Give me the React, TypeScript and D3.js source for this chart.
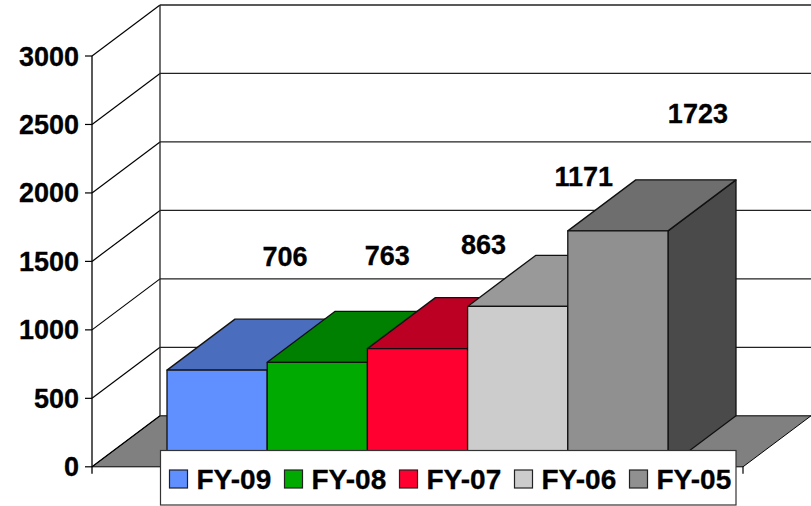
import React from "react";
import * as d3 from "d3";

const categories = ["FY-09", "FY-08", "FY-07", "FY-06", "FY-05"];
const values = [706, 763, 863, 1171, 1723];
const frontColors = ["#6090ff", "#00aa00", "#ff0030", "#cccccc", "#909090"];
const topColors = ["#4a6dbe", "#008000", "#bc0024", "#999999", "#6e6e6e"];
const sideColors = ["#3a5590", "#006000", "#8c001c", "#777777", "#4a4a4a"];
const ticks = [0, 500, 1000, 1500, 2000, 2500, 3000];
const labelOffsets = [0, 2, -2, -2, 12];
const labelLift = [104, 97, 95, 120, 108];

const W = 811, H = 506;
const DX = 68, DY = -51;
const y = d3.scaleLinear().domain([0, 3000]).range([466.8, 56]);
const x = d3.scaleBand<string>().domain(categories).range([167, 668]).padding(0);
const FONT = "'Liberation Sans', Arial, sans-serif";
const FS = 27;
const pts = (p: number[][]) => p.map((q) => q.join(",")).join(" ");

export default function App() {
  const xL = 92, xR = 743;
  const bw = x.bandwidth();
  return (
    <svg width={W} height={H} viewBox={`0 0 ${W} ${H}`}
      style={{ position: "absolute", left: 0, top: 0, display: "block", background: "#fff" }}>
      {/* floor */}
      <polygon points={pts([[xL, y(0)], [xL + DX, y(0) + DY], [xR + DX, y(0) + DY], [xR, y(0)]])}
        fill="#808080" stroke="#000" strokeWidth={1} />
      {/* walls and gridlines */}
      {ticks.map((t) => (
        <g key={t}>
          <line x1={xL} y1={y(t)} x2={xL + DX} y2={y(t) + DY} stroke="#000" strokeWidth={1.2} />
          {t > 0 && <line x1={xL + DX} y1={y(t) + DY} x2={W} y2={y(t) + DY} stroke="#222" strokeWidth={1.3} />}
          <line x1={xL - 7} y1={y(t)} x2={xL} y2={y(t)} stroke="#000" strokeWidth={1.2} />
          <text x={79} y={y(t) + 9.5} textAnchor="end" fontFamily={FONT} fontWeight="bold" fontSize={FS} fill="#000" stroke="#000" strokeWidth={0.3}>{t}</text>
        </g>
      ))}
      <line x1={xL} y1={y(3000)} x2={xL} y2={y(0) + 7} stroke="#000" strokeWidth={1.3} />
      <line x1={xL + DX} y1={y(3000) + DY} x2={xL + DX} y2={y(0) + DY} stroke="#222" strokeWidth={1.3} />
      <line x1={xR} y1={y(0)} x2={xR} y2={y(0) + 7} stroke="#000" strokeWidth={1.2} />
      {/* bars */}
      {categories.map((c, i) => {
        const x0 = x(c)!, x1 = x0 + bw, yt = y(values[i]), yb = y(0);
        return (
          <g key={c} stroke="#111" strokeWidth={1.3} strokeLinejoin="round">
            <polygon points={pts([[x1, yt], [x1 + DX, yt + DY], [x1 + DX, yb + DY], [x1, yb]])} fill={sideColors[i]} />
            <polygon points={pts([[x0, yt], [x1, yt], [x1 + DX, yt + DY], [x0 + DX, yt + DY]])} fill={topColors[i]} />
            <rect x={x0} y={yt} width={bw} height={yb - yt} fill={frontColors[i]} />
          </g>
        );
      })}
      {/* data labels */}
      {categories.map((c, i) => (
        <text key={c} x={x(c)! + bw / 2 + DX + labelOffsets[i]} y={y(values[i]) - labelLift[i]} textAnchor="middle"
          fontFamily={FONT} fontWeight="bold" fontSize={FS} fill="#000" stroke="#000" strokeWidth={0.3}>{values[i]}</text>
      ))}
      {/* legend */}
      <rect x={160.5} y={450.5} width={575.5} height={54.5} fill="#fff" stroke="#333" strokeWidth={1.2} />
      {categories.map((c, i) => {
        const lx = 169.5 + i * 115;
        return (
          <g key={c}>
            <rect x={lx} y={470} width={18} height={18} fill={frontColors[i]} stroke="#222" strokeWidth={1.2} />
            <text x={lx + 27} y={489} fontFamily={FONT} fontWeight="bold" fontSize={28} fill="#000" stroke="#000" strokeWidth={0.3}>{c}</text>
          </g>
        );
      })}
    </svg>
  );
}
